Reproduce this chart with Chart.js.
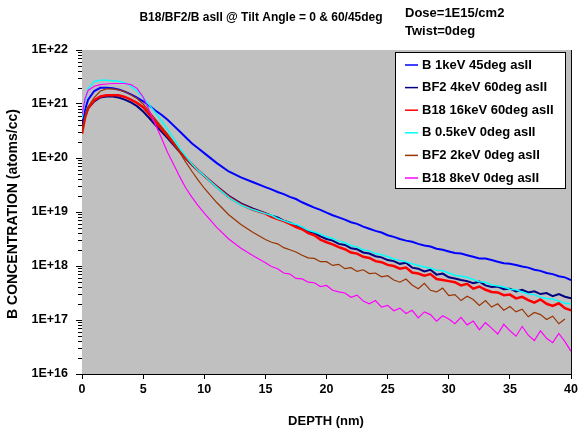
<!DOCTYPE html>
<html>
<head>
<meta charset="utf-8">
<script src="https://cdn.jsdelivr.net/npm/chart.js@4.4.0/dist/chart.umd.min.js"></script>
<style>
  html, body { margin: 0; padding: 0; background: #fff; }
</style>
</head>
<body>
<canvas id="myChart" width="581" height="434"></canvas>
<script>
// depth in nm (shared by all series)
const depth = [0, 0.25, 0.5, 1, 1.5, 2, 2.5, 3, 3.5, 4, 4.5, 5, 5.5, 6, 6.5, 7, 7.5, 8, 8.5, 9, 9.5, 10, 11, 12, 13, 14,
  15, 15.5, 16, 16.5, 17, 17.5, 18, 18.5, 19, 19.5, 20, 20.5, 21, 21.5, 22, 22.5, 23, 23.5, 24, 24.5, 25, 25.5, 26, 26.5,
  27, 27.5, 28, 28.5, 29, 29.5, 30, 30.5, 31, 31.5, 32, 32.5, 33, 33.5, 34, 34.5, 35, 35.5, 36, 36.5, 37, 37.5, 38, 38.5,
  39, 39.5, 40];

// concentrations, as log10(atoms/cc)
const b1keV45 = [20.61, 20.90, 21.08, 21.24, 21.30, 21.30, 21.29, 21.27, 21.23, 21.18, 21.12, 21.05, 20.97, 20.88, 20.80, 20.71, 20.60, 20.49, 20.38, 20.27, 20.18, 20.09, 19.91, 19.75, 19.64, 19.55,
  19.46, 19.42, 19.37, 19.33, 19.28, 19.24, 19.18, 19.13, 19.08, 19.04, 18.99, 18.94, 18.90, 18.86, 18.81, 18.78, 18.73, 18.69, 18.65, 18.62, 18.57, 18.54, 18.50, 18.47,
  18.45, 18.41, 18.38, 18.36, 18.32, 18.30, 18.27, 18.24, 18.23, 18.20, 18.17, 18.14, 18.14, 18.11, 18.08, 18.05, 18.04, 18.02, 17.99, 17.97, 17.93, 17.91, 17.87, 17.85,
  17.81, 17.79, 17.74];
const bf2_4keV60 = [20.57, 20.78, 20.92, 21.05, 21.12, 21.14, 21.14, 21.12, 21.08, 21.03, 20.96, 20.86, 20.74, 20.61, 20.49, 20.37, 20.24, 20.11, 19.99, 19.87, 19.77, 19.67, 19.48, 19.30, 19.16, 19.06,
  18.98, 18.93, 18.90, 18.84, 18.80, 18.75, 18.71, 18.64, 18.61, 18.55, 18.50, 18.47, 18.41, 18.39, 18.33, 18.31, 18.25, 18.23, 18.18, 18.16, 18.11, 18.09, 18.04, 18.06,
  17.97, 17.95, 17.90, 17.93, 17.84, 17.86, 17.79, 17.77, 17.74, 17.72, 17.68, 17.71, 17.64, 17.61, 17.62, 17.57, 17.58, 17.53, 17.56, 17.51, 17.53, 17.48, 17.50, 17.44,
  17.48, 17.43, 17.40];
const b18_16keV60 = [20.45, 20.75, 20.92, 21.07, 21.14, 21.16, 21.16, 21.16, 21.13, 21.08, 21.02, 20.94, 20.81, 20.67, 20.54, 20.41, 20.27, 20.12, 20.00, 19.88, 19.77, 19.67, 19.47, 19.28, 19.14, 19.04,
  18.97, 18.91, 18.87, 18.83, 18.78, 18.72, 18.68, 18.61, 18.57, 18.49, 18.44, 18.40, 18.35, 18.31, 18.25, 18.23, 18.17, 18.15, 18.09, 18.07, 18.02, 18.00, 17.95, 17.97,
  17.88, 17.86, 17.82, 17.85, 17.76, 17.74, 17.72, 17.70, 17.64, 17.67, 17.58, 17.62, 17.56, 17.52, 17.51, 17.46, 17.47, 17.40, 17.43, 17.37, 17.32, 17.38, 17.30, 17.26,
  17.31, 17.22, 17.18];
const b05keV0 = [20.73, 21.05, 21.28, 21.42, 21.44, 21.44, 21.43, 21.42, 21.39, 21.33, 21.24, 21.12, 20.98, 20.84, 20.69, 20.53, 20.36, 20.18, 20.03, 19.89, 19.77, 19.67, 19.46, 19.27, 19.13, 19.04,
  18.97, 18.94, 18.88, 18.84, 18.80, 18.77, 18.72, 18.66, 18.63, 18.59, 18.54, 18.51, 18.46, 18.43, 18.38, 18.35, 18.30, 18.28, 18.23, 18.21, 18.17, 18.13, 18.10, 18.08,
  18.04, 18.01, 17.98, 17.96, 17.92, 17.91, 17.87, 17.83, 17.81, 17.79, 17.75, 17.71, 17.70, 17.65, 17.63, 17.61, 17.57, 17.56, 17.52, 17.48, 17.47, 17.42, 17.40, 17.39,
  17.35, 17.31, 17.30];
const bf2_2keV0 = [20.48, 20.75, 20.95, 21.12, 21.24, 21.28, 21.28, 21.26, 21.23, 21.17, 21.10, 21.00, 20.86, 20.72, 20.58, 20.44, 20.29, 20.10, 19.92, 19.75, 19.59, 19.44, 19.18, 18.95, 18.77, 18.62,
  18.49, 18.44, 18.41, 18.34, 18.30, 18.26, 18.20, 18.15, 18.14, 18.08, 18.08, 18.01, 18.03, 17.95, 17.97, 17.90, 17.93, 17.86, 17.87, 17.80, 17.82, 17.74, 17.70, 17.76,
  17.65, 17.58, 17.68, 17.55, 17.52, 17.59, 17.45, 17.47, 17.36, 17.44, 17.38, 17.27, 17.36, 17.24, 17.30, 17.18, 17.25, 17.15, 17.20, 17.06, 17.14, 17.10, 17.01, 17.07,
  16.93, 17.02, null];
const b18_8keV0 = [20.79, 21.10, 21.25, 21.33, 21.36, 21.37, 21.38, 21.38, 21.38, 21.36, 21.29, 21.13, 20.88, 20.62, 20.37, 20.10, 19.88, 19.65, 19.44, 19.27, 19.12, 18.98, 18.72, 18.50, 18.33, 18.19,
  18.06, 17.99, 17.95, 17.87, 17.85, 17.77, 17.76, 17.70, 17.69, 17.62, 17.64, 17.55, 17.52, 17.50, 17.42, 17.46, 17.35, 17.30, 17.36, 17.24, 17.27, 17.17, 17.22, 17.12,
  17.18, 17.04, 17.15, 17.10, 16.98, 17.08, 17.02, 16.93, 17.05, 16.91, 16.98, 16.82, 16.95, 16.85, 16.74, 16.92, 16.80, 16.70, 16.88, 16.72, 16.62, 16.80, 16.66, 16.58,
  16.75, 16.60, 16.42];

const seriesNames = ['B 1keV 45deg asII', 'BF2 4keV 60deg asII', 'B18 16keV 60deg asII',
  'B 0.5keV 0deg asII', 'BF2 2keV 0deg asII', 'B18 8keV 0deg asII'];
const seriesLogs = [b1keV45, bf2_4keV60, b18_16keV60, b05keV0, bf2_2keV0, b18_8keV0];
const seriesColors = ['#0000FF', '#000080', '#FF0000', '#00FFFF', '#993300', '#FF00FF'];
const seriesWidths = [2, 2, 2.5, 1.5, 1.2, 1.2];

const xTicks = [0, 5, 10, 15, 20, 25, 30, 35, 40];
const yDecades = [16, 17, 18, 19, 20, 21, 22];

const FONT = '"Liberation Sans", Arial, sans-serif';

const datasets = seriesLogs.map((logs, i) => ({
  label: seriesNames[i],
  data: logs.map((v, k) => ({ x: depth[k], y: v === null ? null : Math.pow(10, v) })),
  borderColor: seriesColors[i],
  borderWidth: seriesWidths[i],
  pointRadius: 0,
  tension: 0,
  fill: false,
  spanGaps: false,
  order: 5 - i
}));

const isDecade = v => Math.abs(Math.log10(v) - Math.round(Math.log10(v))) < 1e-6;

// gray plot area, minor ticks, titles and the boxed legend
const decor = {
  id: 'decor',
  beforeDatasetsDraw(chart) {
    const { ctx, chartArea: a } = chart;
    ctx.save();
    ctx.fillStyle = '#C0C0C0';
    ctx.fillRect(a.left, a.top, a.right - a.left, a.bottom - a.top);
    ctx.restore();
  },
  afterDatasetsDraw(chart) {
    const ctx = chart.ctx;
    const a = chart.chartArea;
    const ys = chart.scales.y;
    ctx.save();

    // minor ticks on the y axis
    ctx.strokeStyle = '#000';
    ctx.lineWidth = 1;
    ys.ticks.forEach(t => {
      if (isDecade(t.value)) return;
      const py = Math.round(ys.getPixelForValue(t.value)) + 0.5;
      ctx.beginPath();
      ctx.moveTo(a.left - 4, py);
      ctx.lineTo(a.left, py);
      ctx.stroke();
    });

    // legend
    ctx.fillStyle = '#fff';
    ctx.fillRect(395, 52, 171, 136);
    ctx.strokeStyle = '#000';
    ctx.lineWidth = 1;
    ctx.strokeRect(395.5, 52.5, 170, 136);
    ctx.font = 'bold 13px ' + FONT;
    ctx.textBaseline = 'middle';
    ctx.textAlign = 'left';
    seriesNames.forEach((name, i) => {
      const y = 65 + i * 22.6;
      ctx.strokeStyle = seriesColors[i];
      ctx.lineWidth = 1.5;
      ctx.beginPath();
      ctx.moveTo(405, y);
      ctx.lineTo(418, y);
      ctx.stroke();
      ctx.fillStyle = '#000';
      ctx.fillText(name, 422, y);
    });

    // titles
    ctx.fillStyle = '#000';
    ctx.textAlign = 'center';
    ctx.font = 'bold 12px ' + FONT;
    ctx.fillText('B18/BF2/B asII @ Tilt Angle = 0 & 60/45deg', 261, 18);
    ctx.textAlign = 'left';
    ctx.font = 'bold 13px ' + FONT;
    ctx.fillText('Dose=1E15/cm2', 405, 13);
    ctx.fillText('Twist=0deg', 405, 31);

    ctx.textAlign = 'center';
    ctx.fillText('DEPTH (nm)', 326, 421);
    ctx.font = 'bold 14px ' + FONT;
    ctx.translate(13, 214);
    ctx.rotate(-Math.PI / 2);
    ctx.fillText('B CONCENTRATION (atoms/cc)', 0, 0);
    ctx.restore();
  }
};

new Chart(document.getElementById('myChart'), {
  type: 'line',
  data: { datasets },
  options: {
    responsive: false,
    animation: false,
    events: [],
    layout: { padding: { left: 0, right: 8, top: 50, bottom: 0 } },
    plugins: { legend: { display: false }, tooltip: { enabled: false }, title: { display: false } },
    scales: {
      x: {
        type: 'linear',
        min: 0,
        max: 40,
        afterBuildTicks: s => { s.ticks = xTicks.map(v => ({ value: v })); },
        afterFit: s => { s.height = 60; },
        ticks: { color: '#000', font: { family: FONT, size: 12.5, weight: 'bold' }, padding: 3, maxRotation: 0 },
        grid: { color: '#000', lineWidth: 1, tickLength: 5, tickColor: '#000' },
        border: { color: '#000', width: 1 }
      },
      y: {
        type: 'logarithmic',
        min: 1e16,
        max: 1e22,
        afterBuildTicks: s => {
          const t = [];
          yDecades.forEach(e => {
            for (let m = 1; m <= 9; m++) {
              if (e === 22 && m > 1) break;
              t.push({ value: m * Math.pow(10, e) });
            }
          });
          s.ticks = t;
        },
        afterFit: s => { s.width = 82; },
        ticks: {
          autoSkip: false,
          color: '#000',
          padding: 8,
          font: { family: FONT, size: 12.5, weight: 'bold' },
          callback: v => isDecade(v) ? '1E+' + Math.round(Math.log10(v)) : ''
        },
        grid: {
          color: c => isDecade(c.tick.value) ? '#000' : 'rgba(0,0,0,0)',
          lineWidth: 1,
          tickLength: 6,
          tickColor: c => isDecade(c.tick.value) ? '#000' : 'rgba(0,0,0,0)'
        },
        border: { color: '#000', width: 1 }
      }
    }
  },
  plugins: [decor]
});
</script>
</body>
</html>
